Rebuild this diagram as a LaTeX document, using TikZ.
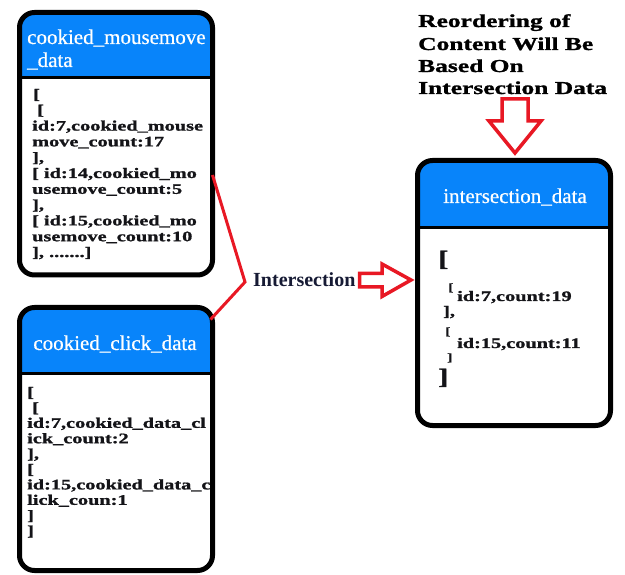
\documentclass[tikz,border=0pt]{standalone}
\usepackage{fontspec}
\setmainfont{Liberation Serif}
\newfontfamily\widefont[FakeStretch=1.4, BoldFeatures={FakeBold=1.3}]{Liberation Serif}
\newfontfamily\hdrfont[FakeBold=0.6]{Liberation Serif}
\definecolor{hdrblue}{RGB}{8,132,250}
\definecolor{arrred}{RGB}{232,24,36}
\definecolor{textdark}{RGB}{20,20,24}
\definecolor{navy}{RGB}{22,26,52}
\tikzset{
  frame/.style={draw=black, line width=5pt, rounded corners=15pt, rectangle, outer sep=0pt, inner sep=0pt, anchor=north west},
  sepline/.style={draw=black, line width=3pt},
  hdrtext/.style={font=\hdrfont\fontsize{21}{24}\selectfont, text=white, inner sep=0pt},
  bodytext/.style={font=\widefont\bfseries\fontsize{14.5}{16}\selectfont, text=textdark, inner sep=0pt, anchor=base west},
  smallbr/.style={font=\widefont\bfseries\fontsize{11}{12}\selectfont, text=textdark, inner sep=0pt, anchor=base west},
  bigbr/.style={font=\widefont\bfseries\fontsize{22}{24}\selectfont, text=textdark, inner sep=0pt, anchor=base west},
  titletext/.style={font=\widefont\bfseries\fontsize{18.2}{22}\selectfont, text=black, inner sep=0pt, anchor=base west},
  redline/.style={draw=arrred, line width=3pt},
  blockarrow/.style={draw=arrred, line width=3.5pt, fill=white, line join=miter}
}
\begin{document}
\begin{tikzpicture}[x=1pt,y=-1pt]
\useasboundingbox[fill=white] (0,0) rectangle (625,575);

% ---------- Box 1: cookied_mousemove_data ----------
\begin{scope}
  \clip[rounded corners=15pt] (19.5,12.5) rectangle (212.5,275);
  \fill[hdrblue] (19.5,12.5) rectangle (212.5,78);
\end{scope}
\draw[sepline] (19.5,78) -- (212.5,78);
\node[frame, minimum width=193pt, minimum height=262.5pt] (mm) at (19.5,12.5) {};
\node[hdrtext, anchor=base west] (mmh1) at (27,44) {cookied\_mousemove};
\node[hdrtext, anchor=base west] (mmh2) at (27,67) {\_data};
\node[bodytext] (m1) at (33,99) {[};
\node[bodytext] (m2) at (37,114.8) {[};
\node[bodytext] (m3) at (32,130.6) {id:7,cookied\_mouse};
\node[bodytext] (m4) at (32,146.4) {move\_count:17};
\node[bodytext] (m5) at (32,162.2) {],};
\node[bodytext] (m6) at (32,178) {[ id:14,cookied\_mo};
\node[bodytext] (m7) at (32,193.8) {usemove\_count:5};
\node[bodytext] (m8) at (32,209.6) {],};
\node[bodytext] (m9) at (32,225.4) {[ id:15,cookied\_mo};
\node[bodytext] (m10) at (32,241.2) {usemove\_count:10};
\node[bodytext] (m11) at (32,257) {], .......]};

% ---------- Box 2: cookied_click_data ----------
\begin{scope}
  \clip[rounded corners=15pt] (19.5,307.5) rectangle (212.5,570.5);
  \fill[hdrblue] (19.5,307.5) rectangle (212.5,374);
\end{scope}
\draw[sepline] (19.5,374) -- (212.5,374);
\node[frame, minimum width=193pt, minimum height=263pt] (ck) at (19.5,307.5) {};
\node[hdrtext, anchor=base] (ckh) at (115,350) {cookied\_click\_data};
\node[bodytext] (c1) at (27,397) {[};
\node[bodytext] (c2) at (32,412.4) {[};
\node[bodytext] (c3) at (27,427.8) {id:7,cookied\_data\_cl};
\node[bodytext] (c4) at (27,443.2) {ick\_count:2};
\node[bodytext] (c5) at (27,458.6) {],};
\node[bodytext] (c6) at (27,474) {[};
\node[bodytext] (c7) at (27,489.4) {id:15,cookied\_data\_c};
\node[bodytext] (c8) at (27,504.8) {lick\_coun:1};
\node[bodytext] (c9) at (27,520.2) {]};
\node[bodytext] (c10) at (27,535.6) {]};

% ---------- Box 3: intersection_data ----------
\begin{scope}
  \clip[rounded corners=15pt] (417.5,160.5) rectangle (610.5,425.5);
  \fill[hdrblue] (417.5,160.5) rectangle (610.5,228);
\end{scope}
\draw[sepline] (417.5,228) -- (610.5,228);
\node[frame, minimum width=193pt, minimum height=265pt] (ix) at (417.5,160.5) {};
\node[hdrtext, anchor=base] (ixh) at (515,203) {intersection\_data};
\node[bigbr] (i1) at (438,266) {[};
\node[smallbr] (i2) at (448,291) {[};
\node[bodytext] (i3) at (457,301) {id:7,count:19};
\node[bodytext] (i4) at (443,316) {],};
\node[smallbr] (i5) at (445,335) {[};
\node[bodytext] (i6) at (457,348) {id:15,count:11};
\node[smallbr] (i7) at (447,361) {]};
\node[bigbr] (i8) at (438,384) {]};

% ---------- Title ----------
\node[titletext] (t1) at (418,27) {Reordering of};
\node[titletext] (t2) at (418,50) {Content Will Be};
\node[titletext] (t3) at (418,72) {Based On};
\node[titletext] (t4) at (418,94) {Intersection Data};

% ---------- Intersection connector ----------
\node[font=\bfseries\fontsize{20}{22}\selectfont, text=navy, inner sep=0pt, anchor=base west] (isect) at (253,287) {Intersection};
\coordinate (vx) at (245,282);
\draw[redline] ([yshift=-31.25pt]mm.east) -- (vx) -- ([xshift=-2pt,yshift=-12pt]ck.north east);

% ---------- Block arrows ----------
\draw[blockarrow] (359.5,273.5) -- (382,273.5) -- (382,264) -- (411,280) -- (382,296.5) -- (382,287) -- (359.5,287) -- cycle;
\draw[blockarrow] (502,99) -- (528,99) -- (528,121) -- (541,121) -- (515,153) -- (489,121) -- (502,121) -- cycle;
\end{tikzpicture}
\end{document}
